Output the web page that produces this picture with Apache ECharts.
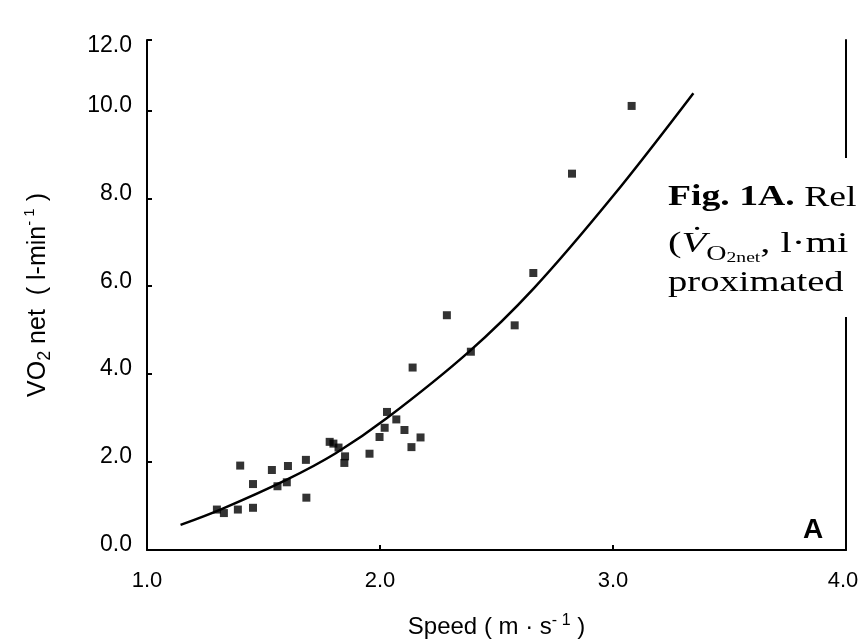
<!DOCTYPE html>
<html>
<head>
<meta charset="utf-8">
<script src="https://cdn.jsdelivr.net/npm/echarts@6/dist/echarts.min.js"></script>
<style>
html,body{margin:0;padding:0;background:#fff;}
#chart{width:859px;height:644px;}
</style>
</head>
<body>
<div id="chart"></div>
<script>
// Measured data points: speed (m·s-1) and VO2 net (l·min-1)
const speed = [1.30, 1.33, 1.39, 1.40, 1.455, 1.455, 1.536, 1.56, 1.60, 1.605, 1.682, 1.684, 1.784, 1.80, 1.822, 1.85, 1.847, 1.955, 1.998, 2.02, 2.03, 2.07, 2.105, 2.135, 2.174, 2.14, 2.287, 2.39, 2.578, 2.658, 2.824, 3.08];
const vo2   = [0.92, 0.84, 0.92, 1.92, 0.96, 1.50, 1.82, 1.45, 1.54, 1.91, 2.05, 1.19, 2.46, 2.42, 2.33, 2.13, 1.98, 2.19, 2.57, 2.78, 3.14, 2.97, 2.73, 2.34, 2.56, 4.15, 5.34, 4.51, 5.11, 6.30, 8.56, 10.10];
// Fitted curve
const fitSpeed = [1.144, 1.32, 1.60, 1.81, 2.03, 2.38, 2.66, 3.00, 3.345];
const fitVo2   = [0.57, 0.93, 1.60, 2.20, 3.00, 4.50, 5.95, 8.05, 10.39];
// Tick labels
const xTickLabels = ['1.0', '2.0', '3.0', '4.0'];
const yTickLabels = ['0.0', '2.0', '4.0', '6.0', '8.0', '10.0', '12.0'];

const points = speed.map((s, i) => [s, vo2[i]]);
const fit = fitSpeed.map((s, i) => [s, fitVo2[i]]);

const font = '"Liberation Sans", Arial, sans-serif';
const serif = '"Liberation Serif", "Times New Roman", serif';

const chart = echarts.init(document.getElementById('chart'), null, {renderer: 'canvas'});
chart.setOption({
  backgroundColor: '#ffffff',
  animation: false,
  grid: {left: 147, right: 13, top: 40, bottom: 94, containLabel: false, outerBoundsMode: 'none'},
  xAxis: {
    type: 'value', min: 1, max: 4, interval: 1,
    name: 'Speed ( m · s{sup|- 1} )',
    nameLocation: 'middle', nameGap: 63,
    nameTextStyle: {color: '#000', fontFamily: font, fontSize: 24,
      rich: {sup: {fontSize: 16, verticalAlign: 'top', color: '#000', fontFamily: font, lineHeight: 28}}},
    axisLine: {show: true, lineStyle: {color: '#000', width: 2}},
    axisTick: {show: true, inside: true, length: 5, lineStyle: {color: '#000', width: 2}},
    axisLabel: {color: '#000', fontFamily: font, fontSize: 22, margin: 20,
      formatter: (v, i) => {
        const t = xTickLabels[i] !== undefined ? xTickLabels[i] : '';
        return v >= 4 ? '{e|' + t + '}' : t;
      },
      rich: {e: {fontSize: 22, fontFamily: font, color: '#000', padding: [0, 6, 0, 0]}}},
    splitLine: {show: false}
  },
  yAxis: [{
    type: 'value', min: 0, max: 11.6, interval: 2,
    name: 'VO{sub|2} net  ( l-min{sup|- 1} )',
    nameLocation: 'middle', nameGap: 93, nameRotate: 90,
    nameTextStyle: {color: '#000', fontFamily: font, fontSize: 25,
      rich: {
        sub: {fontSize: 18, verticalAlign: 'bottom', color: '#000', fontFamily: font, lineHeight: 32},
        sup: {fontSize: 15, verticalAlign: 'top', color: '#000', fontFamily: font, lineHeight: 32}
      }},
    axisLine: {show: true, lineStyle: {color: '#000', width: 2}},
    axisTick: {show: true, inside: true, length: 5, lineStyle: {color: '#000', width: 2}},
    axisLabel: {color: '#000', fontFamily: font, fontSize: 23, margin: 15,
      showMaxLabel: true,
      formatter: (v, i) => {
        const t = yTickLabels[i] !== undefined ? yTickLabels[i] : '';
        return v > 11 ? '{d|' + t + '}' : '{u|' + t + '}';
      },
      rich: {
        u: {fontSize: 23, fontFamily: font, color: '#000', padding: [0, 0, 10, 0]},
        d: {fontSize: 23, fontFamily: font, color: '#000', padding: [12, 0, 0, 0]}
      }},
    splitLine: {show: false}
  }, {
    type: 'value', min: 0, max: 11.6, position: 'right',
    axisLine: {show: true, lineStyle: {color: '#000', width: 2}},
    axisTick: {show: false}, axisLabel: {show: false}, splitLine: {show: false}
  }],
  series: [{
    type: 'line', data: fit, smooth: 0.35, showSymbol: false, symbol: 'none',
    lineStyle: {color: '#000', width: 2.5}, z: 2
  }, {
    type: 'scatter', data: points, symbol: 'rect', symbolSize: 8,
    itemStyle: {color: '#000'}, z: 3
  }],
  graphic: [
    {type: 'rect', z: 100, shape: {x: 660, y: 158, width: 199, height: 159}, style: {fill: '#fff'}},
    {type: 'text', z: 101, x: 668, y: 198, scaleX: 1.3, style: {
      text: '{b|Fig. 1A.} Rel', verticalAlign: 'middle', fill: '#000', font: '29px ' + serif,
      rich: {b: {fontWeight: 'bold', fontSize: 29, fontFamily: serif, fill: '#000'}}}},
    {type: 'text', z: 101, x: 668, y: 244, scaleX: 1.4, style: {
      text: '({i|V̇}{s|O}{ss|2net}, l·mi', verticalAlign: 'middle', fill: '#000', font: '29px ' + serif,
      rich: {
        i: {fontStyle: 'italic', fontSize: 29, fontFamily: serif, fill: '#000'},
        s: {fontSize: 20, fontFamily: serif, fill: '#000', verticalAlign: 'bottom', lineHeight: 38},
        ss: {fontSize: 14, fontFamily: serif, fill: '#000', verticalAlign: 'bottom', lineHeight: 42}
      }}},
    {type: 'text', z: 101, x: 668, y: 283, scaleX: 1.33, style: {
      text: 'proximated', verticalAlign: 'middle', fill: '#000', font: '29px ' + serif}},
    {type: 'text', z: 101, x: 813, y: 530, style: {
      text: 'A', align: 'center', verticalAlign: 'middle', fill: '#000', font: 'bold 28px ' + font}}
  ]
});
</script>
</body>
</html>
